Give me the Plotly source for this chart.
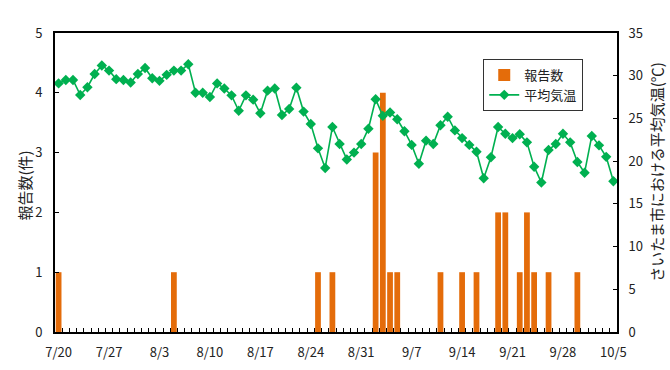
import datetime as dt
import plotly.graph_objects as go

start = dt.date(2023, 7, 20)
dates = [(start + dt.timedelta(days=i)) for i in range(78)]
date_labels = [f"{d.month}/{d.day}" for d in dates]

temps = [29.1, 29.5, 29.5, 27.75, 28.65, 30.2, 31.2, 30.6, 29.6, 29.5,
         29.2, 30.2, 30.9, 29.7, 29.4, 30.1, 30.6, 30.6, 31.35, 28.0,
         28.0, 27.5, 29.1, 28.5, 27.7, 25.9, 27.7, 27.2, 25.6, 28.25,
         28.5, 25.4, 26.1, 28.6, 25.8, 24.35, 21.5, 19.2, 24.0, 22.0,
         20.2, 21.0, 22.0, 23.8, 27.25, 25.3, 25.7, 24.9, 23.5, 21.9,
         19.7, 22.4, 22.0, 24.2, 25.2, 23.6, 22.7, 21.9, 21.1, 18.0,
         20.45, 24.0, 23.2, 22.7, 23.15, 22.2, 19.35, 17.5, 21.3, 22.0,
         23.2, 22.2, 19.9, 18.65, 22.95, 21.85, 20.5, 17.65]

counts = [1, 0, 0, 0, 0, 0, 0, 0, 0, 0,
          0, 0, 0, 0, 0, 0, 1, 0, 0, 0,
          0, 0, 0, 0, 0, 0, 0, 0, 0, 0,
          0, 0, 0, 0, 0, 0, 1, 0, 1, 0,
          0, 0, 0, 0, 3, 4, 1, 1, 0, 0,
          0, 0, 0, 1, 0, 0, 1, 0, 1, 0,
          0, 2, 2, 0, 1, 2, 1, 0, 1, 0,
          0, 0, 1, 0, 0, 0, 0, 0]

label_idx = list(range(0, 78, 7))
label_text = [date_labels[i] for i in label_idx]

left_title = "報告数(件)"
right_title = "さいたま市における平均気温(℃)"

x = list(range(len(dates)))
FONT = "Noto Sans CJK JP"

fig = go.Figure()
fig.add_trace(go.Bar(x=x, y=counts, name="報告数", marker=dict(color="#E46C0A", line=dict(width=0)),
                     width=0.8, yaxis="y"))
fig.add_trace(go.Scatter(x=x, y=temps, name="平均気温", mode="lines+markers", yaxis="y2",
                         line=dict(color="#00B050", width=1.6),
                         marker=dict(symbol="diamond", size=8, color="#00B050")))

fig.update_layout(
    width=670, height=370,
    margin=dict(l=55, r=53, t=33, b=38, autoexpand=False),
    paper_bgcolor="white", plot_bgcolor="white",
    font=dict(family=FONT, size=13, color="#222"),
    showlegend=True,
    legend=dict(x=0.762, y=0.913, xanchor="left", yanchor="top",
                bgcolor="white", bordercolor="#333", borderwidth=1,
                font=dict(size=13, family=FONT), tracegroupgap=0),
    xaxis=dict(range=[-0.5, 77.5], tickmode="array", tickvals=label_idx, ticktext=label_text,
               ticks="", showgrid=False, zeroline=False, showline=True, linecolor="black",
               linewidth=2, mirror=True, ticklabelstandoff=7, automargin=False,
               minor=dict(tickmode="array", tickvals=[i + 0.5 for i in range(77)],
                          ticks="inside", ticklen=4, tickcolor="black", tickwidth=1, showgrid=False)),
    yaxis=dict(range=[0, 5], dtick=1, ticks="inside", ticklen=4, tickcolor="black",
               showgrid=False, zeroline=False, showline=True, linecolor="black", linewidth=2,
               ticklabelstandoff=8, automargin=False),
    yaxis2=dict(range=[0, 35], dtick=5, overlaying="y", side="right", ticks="inside", ticklen=4,
                tickcolor="black", showgrid=False, zeroline=False, showline=True,
                linecolor="black", linewidth=2, ticklabelstandoff=7, automargin=False),
    annotations=[
        dict(text=left_title, xref="paper", yref="paper", x=-0.0534, y=0.49, textangle=-90,
             showarrow=False, xanchor="center", yanchor="middle", font=dict(size=15)),
        dict(text=right_title, xref="paper", yref="paper", x=1.069, y=0.535, textangle=-90,
             showarrow=False, xanchor="center", yanchor="middle", font=dict(size=15)),
    ],
)

fig.write_html("out.html")
